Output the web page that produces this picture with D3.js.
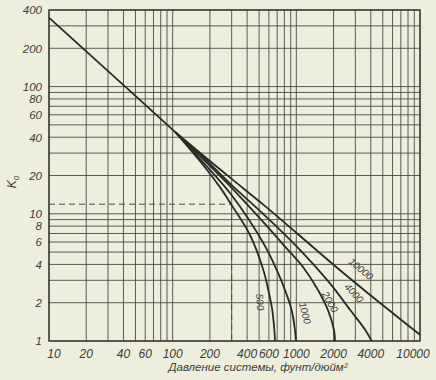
<!DOCTYPE html>
<html><head><meta charset="utf-8">
<script src="https://cdn.jsdelivr.net/npm/d3@7/dist/d3.min.js"></script>
<style>
html,body{margin:0;padding:0;background:#edefdc;}
svg{display:block;}
text{font-family:"Liberation Sans","DejaVu Sans",sans-serif;font-style:italic;fill:#3c3c36;}
</style></head>
<body><svg id="c" width="436" height="380"></svg>
<script>
// tick labels
const xTickLabels = [10,20,40,60,100,200,400,600,1000,2000,4000,10000];
const yTickLabels = [1,2,4,6,8,10,20,40,60,80,100,200,400];
// grid lines
const xGrid = [10,20,30,40,50,60,70,80,90,100,200,300,400,500,600,700,800,900,1000,2000,3000,4000,5000,6000,7000,8000,9000,10000];
const yGrid = [1,2,3,4,5,6,7,8,9,10,20,30,40,50,60,70,80,90,100,200,300,400];
// common low-pressure line
const trunkP = [10, 20, 50, 105];
const trunkK = [348, 189, 84.5, 43.9];
// branches by convergence pressure
const p10000 = [105, 166, 300, 541, 1000, 1870, 4000, 10000];
const k10000 = [43.9, 30.2, 18.8, 11.8, 7.1, 4.2, 2.28, 1.12];
const p4000 = [105, 166, 300, 541, 1000, 1870, 2716, 3590, 4064];
const k4000 = [43.9, 29.5, 16.8, 9.96, 5.58, 2.84, 1.76, 1.23, 1.0];
const p2000 = [105, 166, 300, 541, 800, 1132, 1496, 1803, 2016, 2056];
const k2000 = [43.9, 28.5, 16, 8.6, 5.6, 3.82, 2.52, 1.75, 1.22, 1.0];
const p1000 = [105, 166, 300, 541, 694, 809, 916, 975, 993];
const k1000 = [43.9, 27, 14, 5.89, 3.62, 2.52, 1.75, 1.22, 1.0];
const p500 = [105, 166, 241, 300, 422, 541, 593, 639, 664, 672];
const k500 = [43.9, 26, 16.2, 11.7, 6.81, 3.62, 2.52, 1.75, 1.22, 1.0];
// example reading (dashed)
const exampleP = 300;
const exampleK = 11.9;

const svg = d3.select("#c");
const x = d3.scaleLog().domain([10,10000]).range([49,420]);
const y = d3.scaleLog().domain([1,400]).range([341,10]);

const grid = svg.append("g").attr("stroke","#4a4b44").attr("stroke-width",0.9);
xGrid.forEach(v=>grid.append("line").attr("x1",x(v)).attr("x2",x(v)).attr("y1",y(1)).attr("y2",y(400)));
yGrid.forEach(v=>grid.append("line").attr("x1",x(10)).attr("x2",x(10000)).attr("y1",y(v)).attr("y2",y(v)));
// frame
svg.append("rect").attr("x",x(10)).attr("y",y(400)).attr("width",x(10000)-x(10)).attr("height",y(1)-y(400))
  .attr("fill","none").attr("stroke","#3a3a34").attr("stroke-width",1.4);

// dashed example
svg.append("line").attr("x1",x(10)).attr("x2",x(exampleP)).attr("y1",y(exampleK)).attr("y2",y(exampleK))
  .attr("stroke","#4a4b44").attr("stroke-width",1).attr("stroke-dasharray","6,4");
svg.append("line").attr("x1",x(exampleP)).attr("x2",x(exampleP)).attr("y1",y(exampleK)).attr("y2",y(1))
  .attr("stroke","#4a4b44").attr("stroke-width",1).attr("stroke-dasharray","6,4");

const line = d3.line().x(d=>x(d[0])).y(d=>y(d[1])).curve(d3.curveCatmullRom.alpha(0.5));
const zip=(a,b)=>a.map((v,i)=>[v,b[i]]);
const cg = svg.append("g").attr("fill","none").attr("stroke","#2a2a26").attr("stroke-width",1.8);
cg.append("path").attr("d", d3.line().x(d=>x(d[0])).y(d=>y(d[1]))(zip(trunkP,trunkK)));
[[p10000,k10000],[p4000,k4000],[p2000,k2000],[p1000,k1000],[p500,k500]].forEach(([p,k])=>{
  cg.append("path").attr("d", line(zip(p,k)));
});

// curve labels
const labels = [
  {t:"10000", x:361, y:269, r:40},
  {t:"4000", x:354, y:293, r:47},
  {t:"2000", x:330, y:302, r:60},
  {t:"1000", x:305, y:313, r:75},
  {t:"500", x:260, y:302, r:84}
];
labels.forEach(l=>svg.append("text").attr("transform",`translate(${l.x},${l.y}) rotate(${l.r})`)
  .attr("text-anchor","middle").attr("dominant-baseline","central").attr("font-size",10).text(l.t));

// y tick labels
yTickLabels.forEach(v=>svg.append("text").attr("x",42).attr("y",y(v)+4.3).attr("text-anchor","end")
  .attr("font-size",11.5).text(v));
// x tick labels
xTickLabels.forEach(v=>{
  let xx = x(v);
  if (v===10) xx += 5;
  if (v===10000) xx -= 7;
  svg.append("text").attr("x",xx).attr("y",358).attr("text-anchor","middle").attr("font-size",12).text(v);
});
// axis titles
svg.append("text").attr("x",258).attr("y",371).attr("text-anchor","middle").attr("font-size",11.5)
  .text("Давление системы, фунт/дюйм²");
const yt = svg.append("text").attr("transform","translate(16,182) rotate(-90)").attr("text-anchor","middle").attr("font-size",12);
yt.append("tspan").text("K");
yt.append("tspan").attr("font-size",8).attr("dy",3).text("0");
</script></body></html>
